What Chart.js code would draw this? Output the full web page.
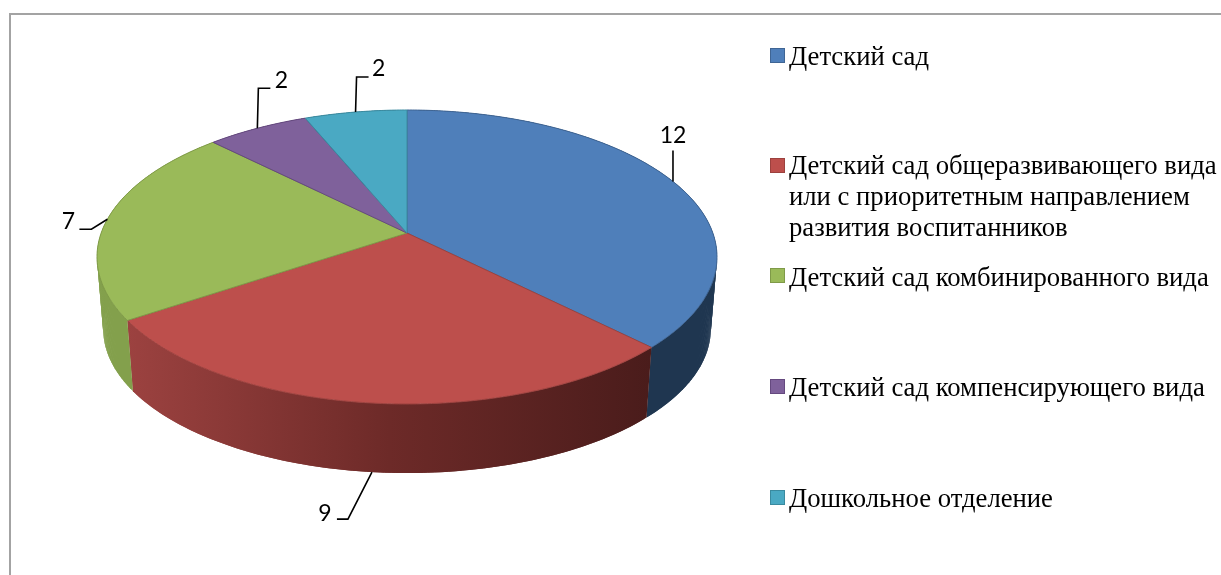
<!DOCTYPE html>
<html lang="ru">
<head>
<meta charset="utf-8">
<title>Детский сад</title>
<script src="https://cdn.jsdelivr.net/npm/chart.js@4"></script>
<style>
  html, body { margin: 0; padding: 0; background: #fff; }
  #wrap { position: relative; width: 1221px; height: 575px; overflow: hidden; }
  #frame { position: absolute; left: 9px; top: 13px; width: 1300px; height: 700px;
           border-left: 2px solid #a3a3a3; border-top: 2px solid #a3a3a3; }
  canvas { position: absolute; left: 0; top: 0; }
  .legend-row { position: absolute; left: 789px; width: 432px; white-space: pre-line;
                font: 26.7px/31px "Liberation Serif", serif; color: #000; }
  .legend-box { position: absolute; left: 770px; width: 13px; height: 13px; border: 1px solid; }
</style>
</head>
<body>
<div id="wrap">
  <div id="frame"></div>
  <canvas id="pie" width="1221" height="575"></canvas>
</div>
<script>
// Data
const categories = [
  "Детский сад",
  "Детский сад общеразвивающего вида\nили с приоритетным направлением\nразвития воспитанников",
  "Детский сад комбинированного вида",
  "Детский сад компенсирующего вида",
  "Дошкольное отделение",
];
const values = [12, 9, 7, 2, 2];

// Slice colours
const topColors = ["#4f7fba", "#bd4f4c", "#9aba59", "#7f619b", "#4aa9c3"];
const edgeColors = ["#3f6594", "#9c413e", "#7f9a48", "#65497f", "#3a8a9f"];
const wallStops = [
  ["#1f3650", "#1f3650"],
  ["#9c4240", "#6d2a28", "#4a1c1b"],
  ["#83a04c", "#83a04c"],
  ["#4d3a5e", "#4d3a5e"],
  ["#2c6678", "#2c6678"],
];

// Legend rows, top of the first text line
const legendTops = [41, 150, 262, 372, 483];
const legendBoxTops = [48, 158, 268, 379, 490];

// Perspective of the disc
const tilt = 147 / 310; // top face height / width
const apexShift = -0.163; // apex sits above the ellipse centre
const wallDrop = 72;
const wallShrink = 0.98;

// Leader lines relative to the rim point: elbow, end, label centre
const leaders = [
  { elbow: [0, -31], end: [0, -31], label: [0, -46] },
  { elbow: [-24, 47], end: [-35, 47], label: [-47, 41] },
  { elbow: [-16, 10], end: [-28, 10], label: [-39, 2] },
  { elbow: [1, -40], end: [13, -40], label: [24, -48] },
  { elbow: [1, -35], end: [13, -35], label: [23, -43] },
];

// Maps an angle on the flat disc to the skewed rim
function rim(el, angle, bottom) {
  const u = Math.cos(angle);
  const v = Math.sin(angle);
  const d = 1 + apexShift * v;
  const nx = (u * Math.sqrt(1 - apexShift * apexShift)) / d;
  const ny = (v + apexShift) / d;
  const r = el.outerRadius;
  if (bottom) {
    return {
      x: el.x + nx * r * wallShrink,
      y: el.y + wallDrop + ny * r * tilt * wallShrink,
      ny: ny,
    };
  }
  return { x: el.x + nx * r, y: el.y + ny * r * tilt, ny: ny };
}

function rimSamples(el, bottom) {
  const pts = [];
  const steps = Math.ceil((el.endAngle - el.startAngle) / 0.01);
  for (let i = 0; i <= steps; i++) {
    pts.push(rim(el, el.startAngle + ((el.endAngle - el.startAngle) * i) / steps, bottom));
  }
  return pts;
}

const pie3d = {
  id: "pie3d",
  beforeDatasetDraw(chart, args) {
    const ctx = chart.ctx;
    const arcs = args.meta.data;
    ctx.save();

    // Side walls first. Quads overlap by one step, that hides the seams
    arcs.forEach((el, i) => {
      const upper = rimSamples(el, false);
      const lower = rimSamples(el, true);
      const xs = upper.concat(lower).map((p) => p.x);
      const grad = ctx.createLinearGradient(Math.min(...xs), 0, Math.max(...xs), 0);
      wallStops[i].forEach((c, k, all) => grad.addColorStop(k / (all.length - 1), c));
      ctx.fillStyle = grad;
      for (let k = 0; k < upper.length - 1; k++) {
        const next = Math.min(k + 2, upper.length - 1);
        ctx.beginPath();
        ctx.moveTo(upper[k].x, upper[k].y);
        ctx.lineTo(upper[next].x, upper[next].y);
        ctx.lineTo(lower[next].x, lower[next].y);
        ctx.lineTo(lower[k].x, lower[k].y);
        ctx.closePath();
        ctx.fill();
      }
    });

    // Top face, every slice runs from the shifted apex
    const apexY = arcs[0].y + apexShift * arcs[0].outerRadius * tilt;
    arcs.forEach((el, i) => {
      ctx.beginPath();
      ctx.moveTo(el.x, apexY);
      rimSamples(el, false).forEach((p) => ctx.lineTo(p.x, p.y));
      ctx.closePath();
      ctx.fillStyle = topColors[i];
      ctx.fill();
      ctx.strokeStyle = edgeColors[i];
      ctx.lineWidth = 1;
      ctx.stroke();
    });

    // Data labels with leader lines
    ctx.font = '23px Lato, sans-serif';
    ctx.textAlign = "center";
    ctx.textBaseline = "middle";
    arcs.forEach((el, i) => {
      const lead = leaders[i];
      const mid = (el.startAngle + el.endAngle) / 2;
      const front = rim(el, mid, false).ny > 0.5;
      const a = rim(el, mid, front);
      ctx.beginPath();
      ctx.moveTo(a.x, a.y);
      ctx.lineTo(a.x + lead.elbow[0], a.y + lead.elbow[1]);
      ctx.lineTo(a.x + lead.end[0], a.y + lead.end[1]);
      ctx.strokeStyle = "#000";
      ctx.lineWidth = 1.6;
      ctx.stroke();
      ctx.fillStyle = "#000";
      ctx.fillText(String(values[i]), a.x + lead.label[0], a.y + lead.label[1]);
    });

    ctx.restore();
    return false; // default flat arcs are replaced by the above
  },
};

new Chart(document.getElementById("pie"), {
  type: "pie",
  data: {
    labels: categories,
    datasets: [{ data: values, backgroundColor: topColors, radius: 310, borderWidth: 0 }],
  },
  options: {
    responsive: false,
    animation: false,
    layout: { padding: { left: 0, top: 0, right: 407, bottom: 61 } },
    plugins: { legend: { display: false }, tooltip: { enabled: false } },
  },
  plugins: [pie3d],
});

// Legend
const wrap = document.getElementById("wrap");
categories.forEach((name, i) => {
  const box = document.createElement("div");
  box.className = "legend-box";
  box.style.top = legendBoxTops[i] + "px";
  box.style.backgroundColor = topColors[i];
  box.style.borderColor = edgeColors[i];
  wrap.appendChild(box);

  const row = document.createElement("div");
  row.className = "legend-row";
  row.style.top = legendTops[i] + "px";
  row.textContent = name;
  wrap.appendChild(row);
});
</script>
</body>
</html>
